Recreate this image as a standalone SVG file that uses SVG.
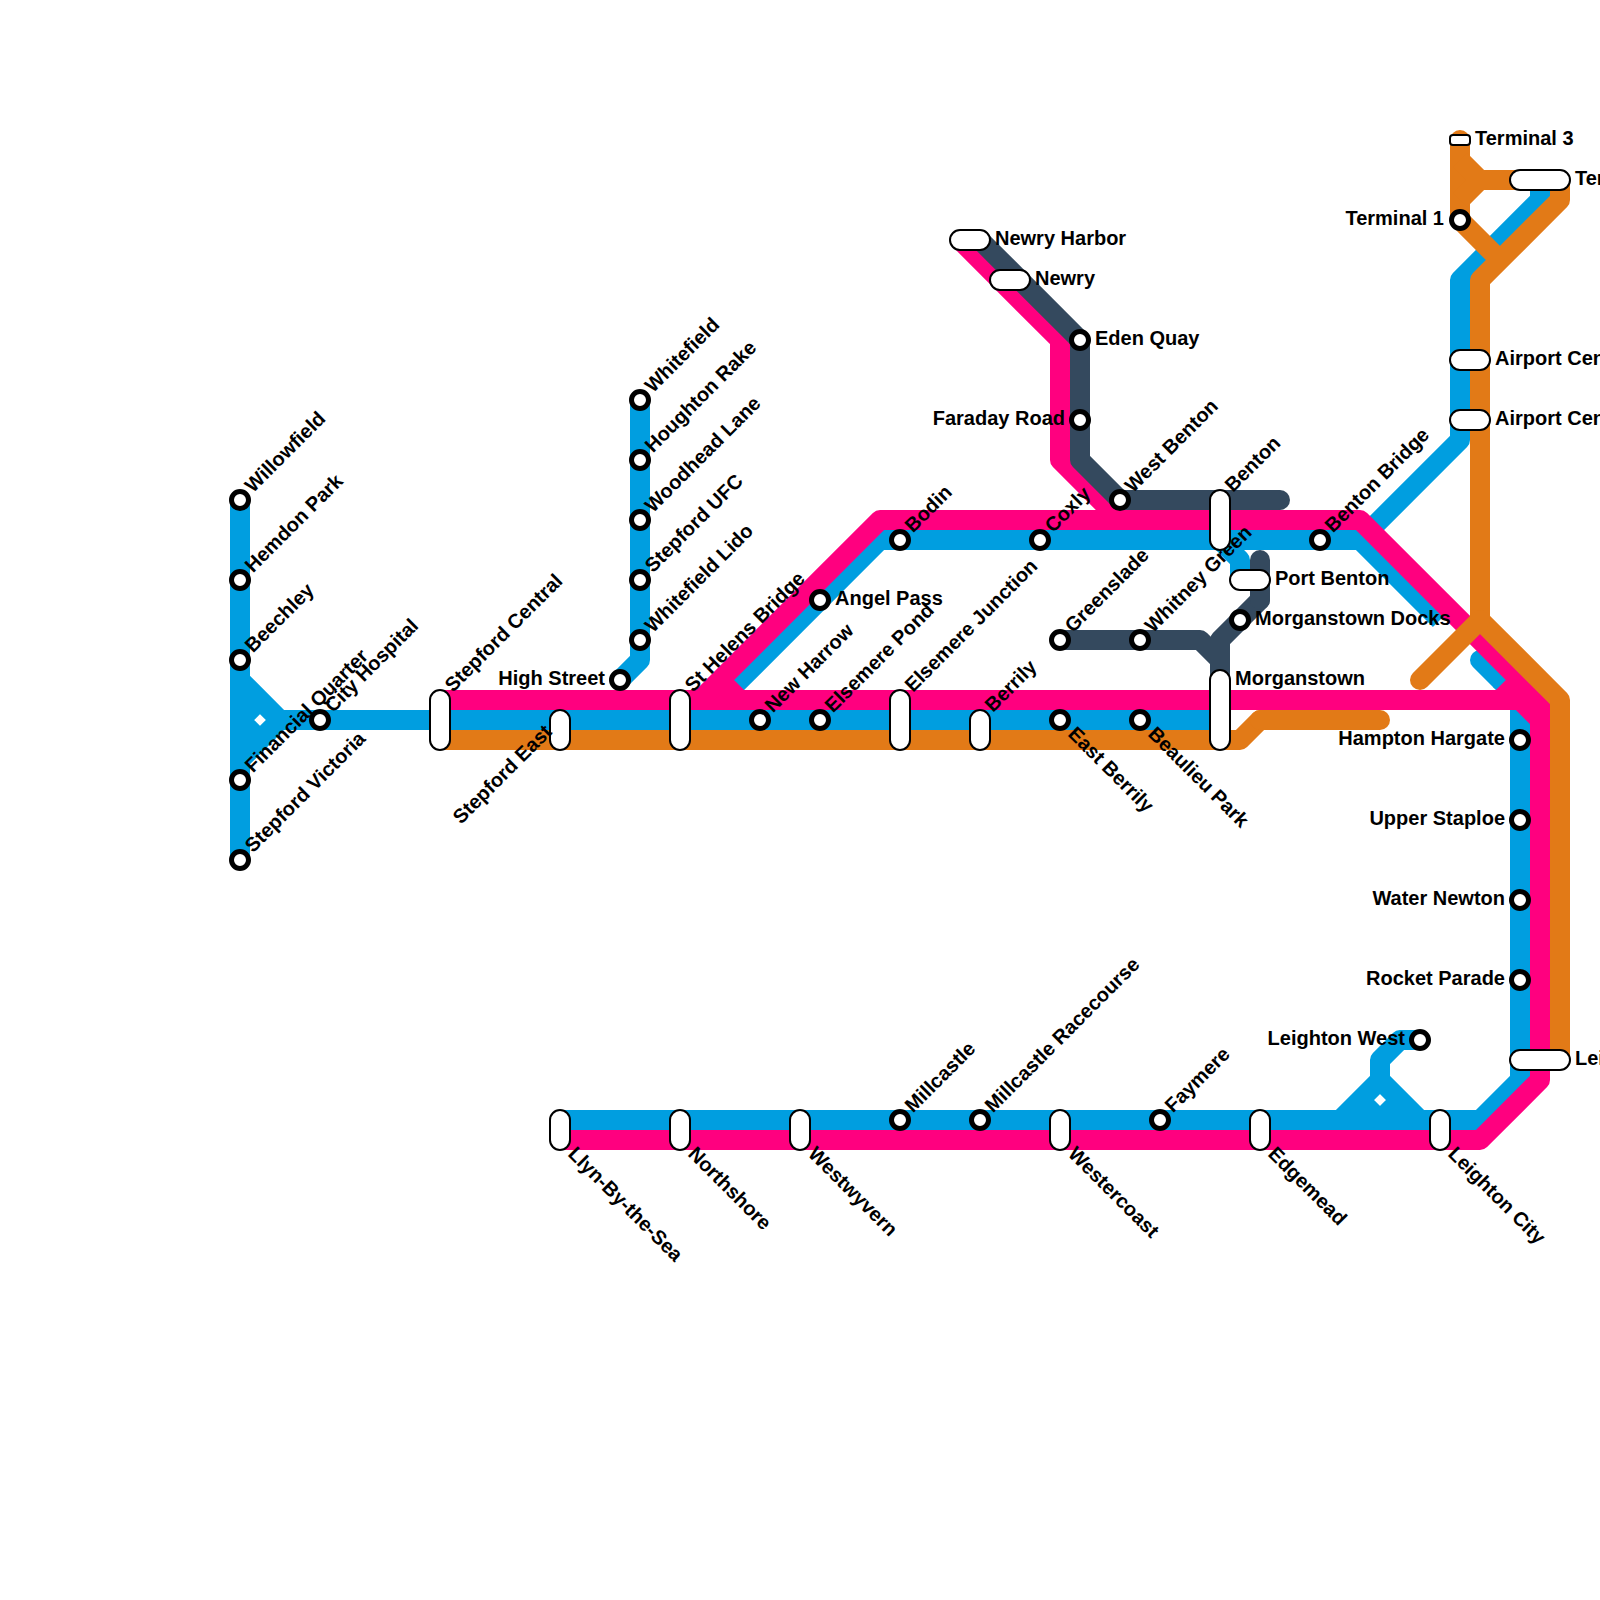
<svg xmlns="http://www.w3.org/2000/svg" width="1600" height="1600" viewBox="0 0 1600 1600">
<style>
.line{fill:none;stroke-width:20;stroke-linejoin:round;stroke-linecap:butt}
.cap{stroke-linecap:round}
.blue{stroke:#009ee0}.pink{stroke:#ff007f}.navy{stroke:#34495e}.orange{stroke:#e27a17}
.st{fill:#fff;stroke:#000;stroke-width:5}
.ic{fill:#fff;stroke:#000;stroke-width:2}
text{font-family:"Liberation Sans",Arial,sans-serif;font-weight:700;font-size:20px;fill:#000}
.e{text-anchor:end}
</style>
<rect width="1600" height="1600" fill="#fff"/>
<g id="connectors">
<path class="line blue" d="M240 500V860M240 680L280 720H1220M240 760L280 720M260 700L240 720L260 740"/>
<path class="line blue" d="M640 400V660L620 680"/>
<path class="line blue" d="M730 690L880 540H1360L1440 620" stroke-linecap="round"/>
<path class="line blue" d="M1220 540L1240 560V580"/>
<path class="line blue" d="M1360 540L1460 440V280L1540 200V180"/>
<path class="line blue cap" d="M1480 660L1500 680"/>
<path class="line blue" d="M1500 680L1520 700V1080L1480 1120H560"/>
<path class="line blue" d="M1340 1120L1380 1080V1060L1400 1040H1420M1420 1120L1380 1080M1360 1100L1380 1120L1400 1100"/>
<path class="line pink" d="M440 700H1520L1540 720M1500 700L1520 680"/>
<path class="line pink" d="M700 700L880 520H1360L1540 700V1080L1480 1140H560M720 680L740 700"/>
<path class="line pink" d="M960 240L1060 340V460L1120 520"/>
<path class="line navy" d="M980 240L1080 340V460L1120 500H1280"/>
<path class="line navy cap" d="M1120 500H1280"/>
<path class="line navy" d="M1060 640H1200L1220 660V680"/>
<path class="line navy" d="M1220 680V640L1260 600V560"/>
<path class="line navy cap" d="M1260 600V560"/>
<path class="line orange" d="M440 740H1240L1260 720H1380"/>
<path class="line orange cap" d="M1260 720H1380"/>
<path class="line orange cap" d="M1460 220V140"/>
<path class="line orange" d="M1460 160L1480 180H1560M1460 200L1480 180M1460 220L1500 260M1560 180V200L1480 280V620L1560 700V1060"/>
<path class="line orange cap" d="M1480 620L1420 680"/>
</g>
<g id="willowfield"><circle class="st" cx="240" cy="500" r="8.5"/><text transform="translate(253 493.5) rotate(-45)">Willowfield</text></g>
<g id="hemdon-park"><circle class="st" cx="240" cy="580" r="8.5"/><text transform="translate(253 573.5) rotate(-45)">Hemdon Park</text></g>
<g id="beechley"><circle class="st" cx="240" cy="660" r="8.5"/><text transform="translate(253 653.5) rotate(-45)">Beechley</text></g>
<g id="financial-quarter"><circle class="st" cx="240" cy="780" r="8.5"/><text transform="translate(253 773.5) rotate(-45)">Financial Quarter</text></g>
<g id="stepford-victoria"><circle class="st" cx="240" cy="860" r="8.5"/><text transform="translate(253 853.5) rotate(-45)">Stepford Victoria</text></g>
<g id="city-hospital"><circle class="st" cx="320" cy="720" r="8.5"/><text transform="translate(333 713.5) rotate(-45)">City Hospital</text></g>
<g id="stepford-central"><rect class="ic" x="430" y="690" width="20" height="60" rx="10"/><text transform="translate(453 693) rotate(-45)">Stepford Central</text></g>
<g id="stepford-east"><rect class="ic" x="550" y="710" width="20" height="40" rx="10"/><text class="e" transform="translate(553 733) rotate(-45)">Stepford East</text></g>
<g id="high-street"><circle class="st" cx="620" cy="680" r="8.5"/><text class="e" x="605" y="685">High Street</text></g>
<g id="whitefield"><circle class="st" cx="640" cy="400" r="8.5"/><text transform="translate(653 393.5) rotate(-45)">Whitefield</text></g>
<g id="houghton-rake"><circle class="st" cx="640" cy="460" r="8.5"/><text transform="translate(653 453.5) rotate(-45)">Houghton Rake</text></g>
<g id="woodhead-lane"><circle class="st" cx="640" cy="520" r="8.5"/><text transform="translate(653 513.5) rotate(-45)">Woodhead Lane</text></g>
<g id="stepford-ufc"><circle class="st" cx="640" cy="580" r="8.5"/><text transform="translate(653 573.5) rotate(-45)">Stepford UFC</text></g>
<g id="whitefield-lido"><circle class="st" cx="640" cy="640" r="8.5"/><text transform="translate(653 633.5) rotate(-45)">Whitefield Lido</text></g>
<g id="st-helens-bridge"><rect class="ic" x="670" y="690" width="20" height="60" rx="10"/><text transform="translate(693 693) rotate(-45)">St Helens Bridge</text></g>
<g id="new-harrow"><circle class="st" cx="760" cy="720" r="8.5"/><text transform="translate(773 713.5) rotate(-45)">New Harrow</text></g>
<g id="elsemere-pond"><circle class="st" cx="820" cy="720" r="8.5"/><text transform="translate(833 713.5) rotate(-45)">Elsemere Pond</text></g>
<g id="angel-pass"><circle class="st" cx="820" cy="600" r="8.5"/><text x="835" y="605">Angel Pass</text></g>
<g id="elsemere-junction"><rect class="ic" x="890" y="690" width="20" height="60" rx="10"/><text transform="translate(913 693) rotate(-45)">Elsemere Junction</text></g>
<g id="bodin"><circle class="st" cx="900" cy="540" r="8.5"/><text transform="translate(913 533.5) rotate(-45)">Bodin</text></g>
<g id="berrily"><rect class="ic" x="970" y="710" width="20" height="40" rx="10"/><text transform="translate(993 713) rotate(-45)">Berrily</text></g>
<g id="coxly"><circle class="st" cx="1040" cy="540" r="8.5"/><text transform="translate(1053 533.5) rotate(-45)">Coxly</text></g>
<g id="greenslade"><circle class="st" cx="1060" cy="640" r="8.5"/><text transform="translate(1073 633.5) rotate(-45)">Greenslade</text></g>
<g id="east-berrily"><circle class="st" cx="1060" cy="720" r="8.5"/><text transform="translate(1067 735) rotate(45)">East Berrily</text></g>
<g id="newry-harbor"><rect class="ic" x="950" y="230" width="40" height="20" rx="10"/><text x="995" y="245">Newry Harbor</text></g>
<g id="newry"><rect class="ic" x="990" y="270" width="40" height="20" rx="10"/><text x="1035" y="285">Newry</text></g>
<g id="eden-quay"><circle class="st" cx="1080" cy="340" r="8.5"/><text x="1095" y="345">Eden Quay</text></g>
<g id="faraday-road"><circle class="st" cx="1080" cy="420" r="8.5"/><text class="e" x="1065" y="425">Faraday Road</text></g>
<g id="west-benton"><circle class="st" cx="1120" cy="500" r="8.5"/><text transform="translate(1133 493.5) rotate(-45)">West Benton</text></g>
<g id="whitney-green"><circle class="st" cx="1140" cy="640" r="8.5"/><text transform="translate(1153 633.5) rotate(-45)">Whitney Green</text></g>
<g id="beaulieu-park"><circle class="st" cx="1140" cy="720" r="8.5"/><text transform="translate(1147 735) rotate(45)">Beaulieu Park</text></g>
<g id="benton"><rect class="ic" x="1210" y="490" width="20" height="60" rx="10"/><text transform="translate(1233 493) rotate(-45)">Benton</text></g>
<g id="port-benton"><rect class="ic" x="1230" y="570" width="40" height="20" rx="10"/><text x="1275" y="585">Port Benton</text></g>
<g id="morganstown-docks"><circle class="st" cx="1240" cy="620" r="8.5"/><text x="1255" y="625">Morganstown Docks</text></g>
<g id="morganstown"><rect class="ic" x="1210" y="670" width="20" height="80" rx="10"/><text x="1235" y="685">Morganstown</text></g>
<g id="benton-bridge"><circle class="st" cx="1320" cy="540" r="8.5"/><text transform="translate(1333 533.5) rotate(-45)">Benton Bridge</text></g>
<g id="terminal-3"><rect class="ic" x="1450" y="135" width="20" height="10" rx="3"/><text x="1475" y="145">Terminal 3</text></g>
<g id="terminal-2"><rect class="ic" x="1510" y="170" width="60" height="20" rx="10"/><text x="1575" y="185">Ter</text></g>
<g id="terminal-1"><circle class="st" cx="1460" cy="220" r="8.5"/><text class="e" x="1444" y="225">Terminal 1</text></g>
<g id="airport-a"><rect class="ic" x="1450" y="350" width="40" height="20" rx="10"/><text x="1495" y="365">Airport Cen</text></g>
<g id="airport-b"><rect class="ic" x="1450" y="410" width="40" height="20" rx="10"/><text x="1495" y="425">Airport Cen</text></g>
<g id="hampton-hargate"><circle class="st" cx="1520" cy="740" r="8.5"/><text class="e" x="1505" y="745">Hampton Hargate</text></g>
<g id="upper-staploe"><circle class="st" cx="1520" cy="820" r="8.5"/><text class="e" x="1505" y="825">Upper Staploe</text></g>
<g id="water-newton"><circle class="st" cx="1520" cy="900" r="8.5"/><text class="e" x="1505" y="905">Water Newton</text></g>
<g id="rocket-parade"><circle class="st" cx="1520" cy="980" r="8.5"/><text class="e" x="1505" y="985">Rocket Parade</text></g>
<g id="leighton-right"><rect class="ic" x="1510" y="1050" width="60" height="20" rx="10"/><text x="1575" y="1065">Lei</text></g>
<g id="leighton-west"><circle class="st" cx="1420" cy="1040" r="8.5"/><text class="e" x="1405" y="1045">Leighton West</text></g>
<g id="llyn"><rect class="ic" x="550" y="1110" width="20" height="40" rx="10"/><text transform="translate(567 1155) rotate(45)">Llyn-By-the-Sea</text></g>
<g id="northshore"><rect class="ic" x="670" y="1110" width="20" height="40" rx="10"/><text transform="translate(687 1155) rotate(45)">Northshore</text></g>
<g id="westwyvern"><rect class="ic" x="790" y="1110" width="20" height="40" rx="10"/><text transform="translate(807 1155) rotate(45)">Westwyvern</text></g>
<g id="millcastle"><circle class="st" cx="900" cy="1120" r="8.5"/><text transform="translate(913 1113.5) rotate(-45)">Millcastle</text></g>
<g id="millcastle-racecourse"><circle class="st" cx="980" cy="1120" r="8.5"/><text transform="translate(993 1113.5) rotate(-45)">Millcastle Racecourse</text></g>
<g id="westercoast"><rect class="ic" x="1050" y="1110" width="20" height="40" rx="10"/><text transform="translate(1067 1155) rotate(45)">Westercoast</text></g>
<g id="faymere"><circle class="st" cx="1160" cy="1120" r="8.5"/><text transform="translate(1173 1113.5) rotate(-45)">Faymere</text></g>
<g id="edgemead"><rect class="ic" x="1250" y="1110" width="20" height="40" rx="10"/><text transform="translate(1267 1155) rotate(45)">Edgemead</text></g>
<g id="leighton-city"><rect class="ic" x="1430" y="1110" width="20" height="40" rx="10"/><text transform="translate(1447 1155) rotate(45)">Leighton City</text></g>
</svg>
